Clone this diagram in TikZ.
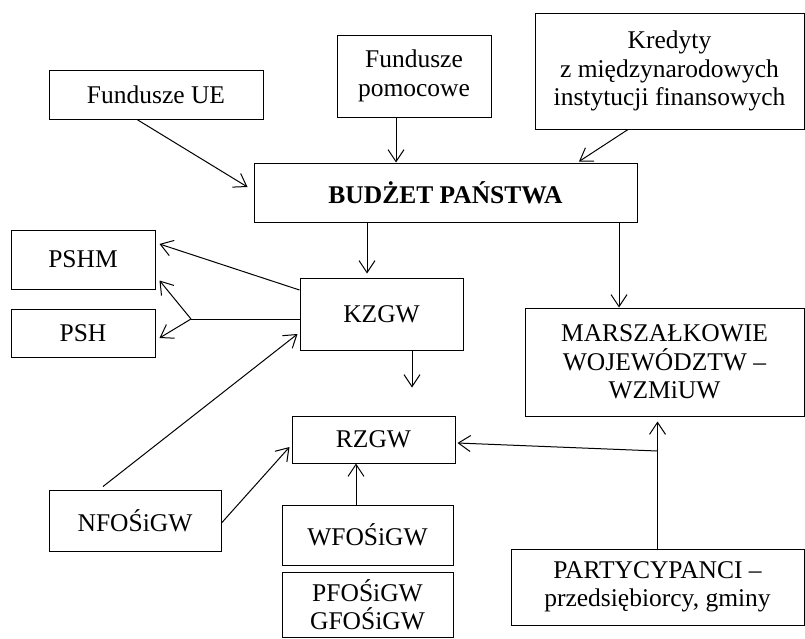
\documentclass[tikz,border=0pt]{standalone}
\usepackage{fontspec}
\setmainfont{Liberation Serif}
\usetikzlibrary{arrows.meta}

\begin{document}
\begin{tikzpicture}[x=1pt,y=-1pt,line width=1pt,>={Straight Barb[length=12pt,width=16pt]},every node/.style = {draw, align=center, inner sep=0pt, font=\fontsize{25.5}{28.5}\selectfont},box/.style 2 args={minimum width=#1pt, minimum height=#2pt}]
\useasboundingbox (0,0) rectangle (805,638);
\node[box={214}{49}](ue) at (156,94.5) {Fundusze UE};
\node[box={154}{82}](pomoc) at (414,76) {Fundusze\\pomocowe};
\node[box={269}{116}](kred) at (669.5,71) {Kredyty\\z międzynarodowych\\instytucji finansowych};
\node[box={383}{59}](budzet) at (445.5,192.5) {\textbf{BUDŻET PAŃSTWA}};
\node[box={144}{59}](pshm) at (83,259.5) {PSHM};
\node[box={144}{48}](psh) at (83,333) {PSH};
\node[box={163}{72}](kzgw) at (381.5,314) {KZGW};
\node[box={279}{108}](marsz) at (664.5,362) {MARSZAŁKOWIE\\WOJEWÓDZTW –\\WZMiUW};
\node[box={163}{47}](rzgw) at (373.5,439.5) {RZGW};
\node[box={172}{61}](nf) at (135,520.5) {NFOŚiGW};
\node[box={171}{60}](wf) at (367.5,535) {WFOŚiGW};
\node[box={171}{65}](pf) at (367.5,604.5) {PFOŚiGW\\GFOŚiGW};
\node[box={293}{76}](party) at (657.5,587) {PARTYCYPANCI –\\przedsiębiorcy, gminy};
\coordinate (br) at (191,319);
\coordinate (join) at (party.north |- 0,451);
% do budzetu
\draw[->] ([xshift=-19pt]ue.south) -- ([xshift=-6pt,yshift=5.5pt]budzet.west);
\draw[->] ([xshift=-18pt]pomoc.south) -- ([xshift=-18pt]pomoc.south |- budzet.north);
\draw[->] ([xshift=-41.5pt]kred.south) -- ([xshift=133.5pt,yshift=1pt]budzet.north);
% z budzetu
\draw[->,shorten >=4pt] ([xshift=-78.5pt]budzet.south) -- ([xshift=-78.5pt]budzet.south |- kzgw.north);
\draw[->] ([xshift=173.5pt]budzet.south) -- ([xshift=173.5pt]budzet.south |- marsz.north);
% KZGW
\draw[->] ([yshift=24pt]kzgw.west) -- ([xshift=4pt,yshift=15.5pt]pshm.east);
\draw ([yshift=-5pt]kzgw.west) -- (br);
\draw[->] (br) -- ([xshift=4pt,yshift=9pt]pshm.south east);
\draw[->] (br) -- ([xshift=4pt,yshift=-5pt]psh.east);
\draw[->,shorten >=28pt] ([xshift=30.5pt]kzgw.south) -- ([xshift=30.5pt]kzgw.south |- rzgw.north);
% fundusze
\draw[->] ([xshift=-32pt,yshift=3pt]nf.north) -- ([xshift=-2pt,yshift=-20pt]kzgw.west);
\draw[->] ([yshift=-2.5pt]nf.east) -- ([xshift=-2pt,yshift=-7.5pt]rzgw.west);
\draw[->] ([xshift=-11.5pt]wf.north) -- ([xshift=-11.5pt]wf.north |- rzgw.south);
% partycypanci
\draw[->,shorten >=5pt] (party.north) -- (party.north |- marsz.south);
\draw[->] (join) -- ([xshift=2pt,yshift=-3.5pt]rzgw.east);
\end{tikzpicture}
\end{document}
